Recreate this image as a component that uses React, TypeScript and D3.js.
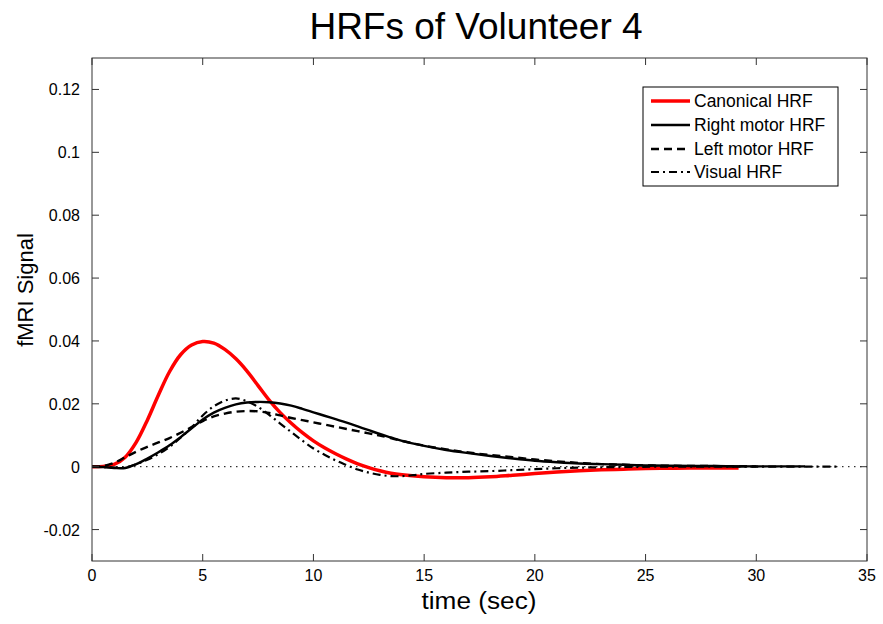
import React from "react";
import * as d3 from "d3";

const title = "HRFs of Volunteer 4";
const xLabel = "time (sec)";
const yLabel = "fMRI Signal";
const xTicks = [0, 5, 10, 15, 20, 25, 30, 35];
const yTicks = [-0.02, 0, 0.02, 0.04, 0.06, 0.08, 0.1, 0.12];
const yTickLabels = ["-0.02", "0", "0.02", "0.04", "0.06", "0.08", "0.1", "0.12"];

const canonicalT = [0, 0.5, 1, 1.5, 2, 2.5, 3, 3.5, 4, 4.5, 5, 5.5, 6, 6.5, 7, 7.5, 8, 8.5, 9, 9.5, 10, 10.5, 11, 11.5, 12, 12.5, 13, 13.5, 14, 15, 16, 17, 18, 19, 20, 21, 22, 23, 24, 25, 26, 27, 28, 29.2];
const canonicalV = [0, 0.0001, 0.0007, 0.003, 0.0078, 0.0148, 0.0228, 0.0302, 0.0356, 0.0387, 0.0398, 0.0393, 0.0373, 0.0343, 0.0304, 0.0258, 0.0212, 0.0172, 0.0138, 0.0108, 0.0082, 0.006, 0.0041, 0.0024, 0.0009, -0.0003, -0.0013, -0.0021, -0.0026, -0.0032, -0.0035, -0.0035, -0.0032, -0.0027, -0.0022, -0.0017, -0.0013, -0.001, -0.0008, -0.0006, -0.0005, -0.0004, -0.0004, -0.0004];

const rightT = [0, 0.5, 1, 1.5, 2, 2.5, 3, 3.5, 4, 4.5, 5, 5.5, 6, 6.5, 7, 7.5, 8, 8.5, 9, 9.5, 10, 10.5, 11, 11.5, 12, 12.5, 13, 13.5, 14, 15, 16, 17, 18, 19, 20, 21, 22, 23, 24, 25, 26, 28, 30, 32.2];
const rightV = [0, -0.0001, -0.0004, -0.0004, 0.0008, 0.0026, 0.0046, 0.0068, 0.0094, 0.0122, 0.015, 0.0172, 0.0187, 0.0198, 0.0204, 0.0206, 0.0205, 0.0201, 0.0194, 0.0184, 0.0173, 0.0162, 0.0151, 0.014, 0.0128, 0.0116, 0.0104, 0.0093, 0.0082, 0.0066, 0.0053, 0.0043, 0.0034, 0.0026, 0.0019, 0.0014, 0.001, 0.0008, 0.0006, 0.0004, 0.0003, 0.0002, 0.0001, 0.0001];

const leftT = [0, 0.5, 1, 1.5, 2, 2.5, 3, 3.5, 4, 4.5, 5, 5.5, 6, 6.5, 7, 7.5, 8, 8.5, 9, 9.5, 10, 10.5, 11, 11.5, 12, 12.5, 13, 14, 15, 16, 17, 18, 19, 20, 21, 22, 23, 24, 25, 26, 28, 30];
const leftV = [0, 0.0002, 0.0012, 0.003, 0.0048, 0.0063, 0.0077, 0.0091, 0.0108, 0.0126, 0.0145, 0.016, 0.0169, 0.0175, 0.0177, 0.0176, 0.0171, 0.0163, 0.0155, 0.0148, 0.0141, 0.0134, 0.0127, 0.012, 0.0113, 0.0106, 0.0099, 0.0082, 0.0067, 0.0055, 0.0045, 0.0037, 0.003, 0.0023, 0.0017, 0.0012, 0.0008, 0.0006, 0.0004, 0.0003, 0.0002, 0.0001];

const visualT = [0, 0.5, 1, 1.5, 2, 2.5, 3, 3.5, 4, 4.5, 5, 5.5, 6, 6.5, 7, 7.5, 8, 8.5, 9, 9.5, 10, 10.5, 11, 11.5, 12, 12.5, 13, 13.5, 14, 14.5, 15, 16, 17, 18, 19, 20, 21, 22, 24, 26, 30, 33.8];
const visualV = [0, -0.0001, -0.0003, -0.0002, 0.0008, 0.0022, 0.004, 0.0063, 0.0092, 0.0125, 0.0163, 0.0192, 0.021, 0.0217, 0.0208, 0.019, 0.0165, 0.0137, 0.011, 0.0083, 0.0058, 0.0038, 0.002, 0.0005, -0.0009, -0.0019, -0.0026, -0.003, -0.003, -0.0027, -0.0023, -0.0019, -0.0016, -0.0014, -0.0011, -0.0008, -0.0005, -0.0003, -0.0001, 0, 0, 0];

const seriesNames = ["Canonical HRF", "Right motor HRF", "Left motor HRF", "Visual HRF"];

const W = 883;
const H = 624;
const L = 92, R = 867, T = 58, B = 561;
const FONT = "'Liberation Sans', Arial, Helvetica, sans-serif";

export default function App() {
  const x = d3.scaleLinear().domain([0, 35]).range([L, R]);
  const y = d3.scaleLinear().domain([-0.03, 0.13]).range([B, T]);
  const mk = (ts: number[], vs: number[]) =>
    d3.line<number>().x((_, i) => x(ts[i])).y((v) => y(v)).curve(d3.curveCatmullRom.alpha(0.5))(vs) || "";

  const styles = [
    { stroke: "#ff0000", width: 3.5, dash: undefined as string | undefined },
    { stroke: "#000", width: 2.4, dash: undefined },
    { stroke: "#000", width: 2.4, dash: "8,5" },
    { stroke: "#000", width: 2.2, dash: "8,4,2,4" },
  ];
  const paths = [
    mk(canonicalT, canonicalV),
    mk(rightT, rightV),
    mk(leftT, leftV),
    mk(visualT, visualV),
  ];
  const tickLen = 7;
  const legX = 643, legY = 87, legW = 195, legH = 99;
  const rowY = [101, 125, 149, 172];

  return (
    <svg width={W} height={H} style={{ position: "absolute", left: 0, top: 0, background: "#fff" }} fontFamily={FONT}>
      <rect x={0} y={0} width={W} height={H} fill="#fff" />
      <text x={476} y={39} fontSize={37} textAnchor="middle">{title}</text>
      <rect x={L} y={T} width={R - L} height={B - T} fill="#fff" />
      <line x1={x(0)} x2={x(35)} y1={y(0)} y2={y(0)} stroke="#000" strokeWidth={1} strokeDasharray="1.5,4.5" />
      {paths.map((d, i) => (
        <path key={i} d={d} fill="none" stroke={styles[i].stroke} strokeWidth={styles[i].width} strokeDasharray={styles[i].dash} strokeLinejoin="round" />
      ))}
      <rect x={L} y={T} width={R - L} height={B - T} fill="none" stroke="#333" strokeWidth={1} />
      {xTicks.map((t) => (
        <g key={"x" + t}>
          <line x1={x(t)} x2={x(t)} y1={B} y2={B - tickLen} stroke="#333" />
          <line x1={x(t)} x2={x(t)} y1={T} y2={T + tickLen} stroke="#333" />
          <text x={x(t)} y={581} fontSize={16} textAnchor="middle">{t}</text>
        </g>
      ))}
      {yTicks.map((t, i) => (
        <g key={"y" + t}>
          <line x1={L} x2={L + tickLen} y1={y(t)} y2={y(t)} stroke="#333" />
          <line x1={R} x2={R - tickLen} y1={y(t)} y2={y(t)} stroke="#333" />
          <text x={80} y={y(t) + 6} fontSize={16} textAnchor="end">{yTickLabels[i]}</text>
        </g>
      ))}
      <text x={479} y={609} fontSize={23} textAnchor="middle" textLength={115} lengthAdjust="spacingAndGlyphs">{xLabel}</text>
      <text transform={`translate(33,290) rotate(-90)`} fontSize={22} textAnchor="middle">{yLabel}</text>
      <rect x={legX} y={legY} width={legW} height={legH} fill="#fff" stroke="#000" strokeWidth={1} />
      {seriesNames.map((n, i) => (
        <g key={n}>
          <line x1={651} x2={690} y1={rowY[i]} y2={rowY[i]} stroke={styles[i].stroke} strokeWidth={styles[i].width} strokeDasharray={styles[i].dash} />
          <text x={694} y={rowY[i] + 6} fontSize={17.5}>{n}</text>
        </g>
      ))}
    </svg>
  );
}
